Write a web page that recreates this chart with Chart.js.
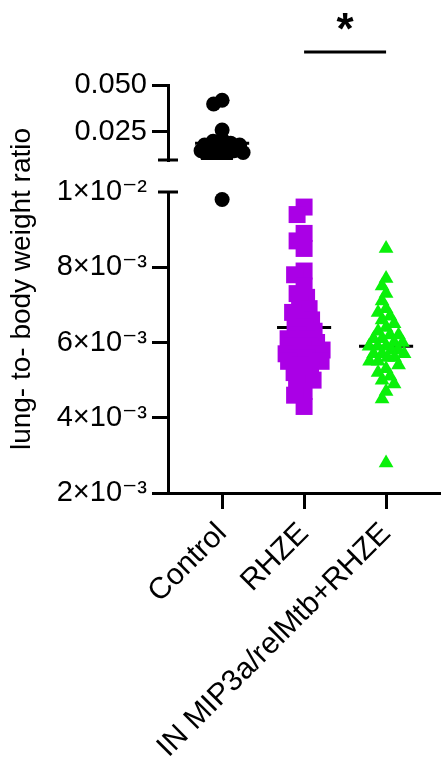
<!DOCTYPE html>
<html>
<head>
<meta charset="utf-8">
<script src="https://cdn.jsdelivr.net/npm/chart.js@4.4.1/dist/chart.umd.min.js"></script>
<style>
  html, body { margin: 0; padding: 0; background: #fff; }
  #wrap { position: relative; width: 441px; height: 766px; }
</style>
</head>
<body>
<div id="wrap"><canvas id="myChart"></canvas></div>
<script>
// values
const categories = ['Control', 'RHZE', 'IN MIP3a/relMtb+RHZE'];
const controlValues = [0.0419, 0.0399, 0.026, 0.021, 0.020, 0.019, 0.018, 0.018, 0.017,
  0.016, 0.016, 0.015, 0.015, 0.014, 0.013, 0.012, 0.011, 0.0098];
const rhzeValues = [0.0096, 0.0094, 0.0089, 0.0087, 0.0085, 0.0079, 0.0078, 0.0075, 0.0073,
  0.0072, 0.0070, 0.0069, 0.0068, 0.0067, 0.0066, 0.0065, 0.0064, 0.0063, 0.0062, 0.0061,
  0.0061, 0.0060, 0.0060, 0.0059, 0.0059, 0.0058, 0.0058, 0.0057, 0.0057, 0.0056, 0.0056,
  0.0055, 0.0055, 0.0054, 0.0053, 0.0052, 0.0051, 0.0050, 0.0049, 0.0047, 0.0046, 0.0043];
const inValues = [0.0085, 0.0077, 0.0075, 0.0073, 0.0071, 0.0069, 0.0068, 0.0067, 0.0066,
  0.0065, 0.0064, 0.0063, 0.0062, 0.0062, 0.0061, 0.0061, 0.0060, 0.0060, 0.0059, 0.0059,
  0.0059, 0.0058, 0.0058, 0.0057, 0.0057, 0.0057, 0.0056, 0.0056, 0.0055, 0.0055, 0.0054,
  0.0053, 0.0052, 0.0051, 0.0050, 0.0049, 0.0047, 0.0045, 0.0028];
const groupMeans = [0.019, 0.0064, 0.0059];
const topTicks = [0.025, 0.050];
const topTickLabels = ['0.025', '0.050'];
const bottomTicks = [0.002, 0.004, 0.006, 0.008, 0.010];
const bottomTickLabels = ['2×10⁻³', '4×10⁻³', '6×10⁻³', '8×10⁻³', '1×10⁻²'];
const breakValue = 0.010;

const FONT = "'Liberation Sans', Arial, 'DejaVu Sans', sans-serif";
const colors = ['#000000', '#AA00E6', '#0AF00A'];
const markerSizes = [15, 17, 14];
const swarmHalfWidth = [21, 18, 18];

function pts(values, idx) {
  return values.map(v => ({ x: idx, y: v }));
}
function axisFor(v) {
  return v >= breakValue ? 'yTop' : 'yBot';
}

const pointSets = [
  { group: 0, data: pts(controlValues.filter(v => v >= breakValue), 0), yAxisID: 'yTop',
    pointStyle: 'circle', pointRadius: 7.5, backgroundColor: colors[0] },
  { group: 0, data: pts(controlValues.filter(v => v < breakValue), 0), yAxisID: 'yBot',
    pointStyle: 'circle', pointRadius: 7.5, backgroundColor: colors[0] },
  { group: 1, data: pts(rhzeValues, 1), yAxisID: 'yBot',
    pointStyle: 'rect', pointRadius: 12, backgroundColor: colors[1] },
  { group: 2, data: pts(inValues, 2), yAxisID: 'yBot',
    pointStyle: 'triangle', pointRadius: 8.5, backgroundColor: colors[2] }
].map(d => Object.assign(d, { borderWidth: 0, pointHoverRadius: d.pointRadius, order: 0 }));

const meanSets = groupMeans.map((m, i) => ({
  type: 'line',
  data: [{ x: i - 0.33, y: m }, { x: i + 0.33, y: m }],
  yAxisID: axisFor(m),
  borderColor: '#000',
  borderWidth: 3,
  pointRadius: 0,
  showLine: true,
  order: 5
}));

// y title, break marks and the significance bar
const extras = {
  id: 'extras',
  afterDraw(chart) {
    const ctx = chart.ctx;
    const yTop = chart.scales.yTop, yBot = chart.scales.yBot, x = chart.scales.x;
    const ax = yBot.right;
    ctx.save();
    ctx.strokeStyle = '#000';
    ctx.lineWidth = 3;
    ctx.beginPath();
    ctx.moveTo(ax - 10, yTop.bottom); ctx.lineTo(ax + 10, yTop.bottom);
    ctx.moveTo(ax - 10, yBot.top); ctx.lineTo(ax + 10, yBot.top);
    ctx.stroke();

    // significance RHZE vs IN
    const x1 = x.getPixelForValue(1), x2 = x.getPixelForValue(2);
    const sy = chart.chartArea.top - 33;
    ctx.beginPath();
    ctx.moveTo(x1, sy); ctx.lineTo(x2, sy);
    ctx.stroke();
    ctx.fillStyle = '#000';
    ctx.font = 'bold 44px ' + FONT;
    ctx.textAlign = 'center';
    ctx.textBaseline = 'alphabetic';
    ctx.fillText('*', (x1 + x2) / 2, sy - 8);

    // axis title, centred on the whole broken axis
    ctx.font = '28px ' + FONT;
    ctx.textBaseline = 'middle';
    ctx.translate(22, (yTop.top + yBot.bottom) / 2);
    ctx.rotate(-Math.PI / 2);
    ctx.fillText('lung- to- body weight ratio', 0, 0);
    ctx.restore();
  }
};

const yCommon = {
  type: 'linear',
  position: 'left',
  stack: 'y',
  border: { display: true, color: '#000', width: 3 },
  ticks: { color: '#000', padding: 5, font: { family: FONT, size: 29 } },
  afterFit(scale) { scale.width = 168; }
};

const ctx = document.getElementById('myChart').getContext('2d');
const myChart = new Chart(ctx, {
  type: 'scatter',
  data: { datasets: pointSets.concat(meanSets) },
  options: {
    responsive: true,
    maintainAspectRatio: false,
    animation: false,
    layout: { autoPadding: false, padding: { top: 85, left: 0, right: 0, bottom: 0 } },
    plugins: { legend: { display: false }, tooltip: { enabled: false } },
    scales: {
      x: {
        type: 'linear',
        min: -0.66,
        max: 2.67,
        border: { display: true, color: '#000', width: 3 },
        grid: { display: true, drawOnChartArea: false, drawTicks: true, tickLength: 16, lineWidth: 3, color: '#000' },
        afterBuildTicks(scale) { scale.ticks = categories.map((c, i) => ({ value: i })); },
        afterFit(scale) { scale.height = 273; scale.paddingLeft = 0; scale.paddingRight = 0; },
        ticks: {
          color: '#000',
          autoSkip: false,
          minRotation: 45,
          maxRotation: 45,
          padding: 7,
          font: { family: FONT, size: 30 },
          callback: (v) => categories[v]
        }
      },
      yBot: Object.assign({}, yCommon, {
        min: 0.002,
        max: 0.010,
        stackWeight: 301,
        grid: {
          display: true, drawOnChartArea: false, drawTicks: true, tickLength: 16, lineWidth: 3,
          color: (c) => (c.tick && c.tick.value === breakValue ? 'rgba(0,0,0,0)' : '#000')
        },
        afterBuildTicks(scale) { scale.ticks = bottomTicks.map(v => ({ value: v })); },
        ticks: Object.assign({}, yCommon.ticks, { callback: (v, i) => bottomTickLabels[i] })
      }),
      yGap: { type: 'linear', position: 'left', stack: 'y', stackWeight: 32, display: false },
      yTop: Object.assign({}, yCommon, {
        min: 0.010,
        max: 0.050,
        stackWeight: 75,
        grid: { display: true, drawOnChartArea: false, drawTicks: true, tickLength: 16, lineWidth: 3, color: '#000' },
        afterBuildTicks(scale) { scale.ticks = topTicks.map(v => ({ value: v })); },
        ticks: Object.assign({}, yCommon.ticks, { callback: (v, i) => topTickLabels[i] })
      })
    }
  },
  plugins: [extras]
});

// spread the dots sideways like a dot plot (layout only, values untouched)
function arrangeSwarm(chart) {
  const xs = chart.scales.x;
  const pxPerUnit = xs.getPixelForValue(1) - xs.getPixelForValue(0);
  const groups = {};
  chart.data.datasets.forEach(ds => {
    if (ds.group === undefined) return;
    const ys = chart.scales[ds.yAxisID];
    ds.data.forEach(p => {
      (groups[ds.group] = groups[ds.group] || []).push({ p: p, py: ys.getPixelForValue(p.y) });
    });
  });
  Object.keys(groups).forEach(g => {
    const d = markerSizes[g] * 0.6;
    const cap = swarmHalfWidth[g];
    const placed = [];
    groups[g].sort((a, b) => a.py - b.py).forEach(it => {
      let best = 0, bestGap = -1;
      for (let k = 0; ; k++) {
        const cand = (k % 2 ? -1 : 1) * Math.ceil(k / 2) * 0.5;
        if (Math.abs(cand) > cap) break;
        let gap = Infinity;
        placed.forEach(q => { gap = Math.min(gap, Math.hypot(cand - q.dx, it.py - q.py)); });
        if (gap >= d) { best = cand; break; }
        if (gap > bestGap) { bestGap = gap; best = cand; }
      }
      it.dx = best;
      placed.push(it);
      it.p.x = Number(g) + best / pxPerUnit;
    });
  });
  chart.update('none');
}
arrangeSwarm(myChart);
</script>
</body>
</html>
